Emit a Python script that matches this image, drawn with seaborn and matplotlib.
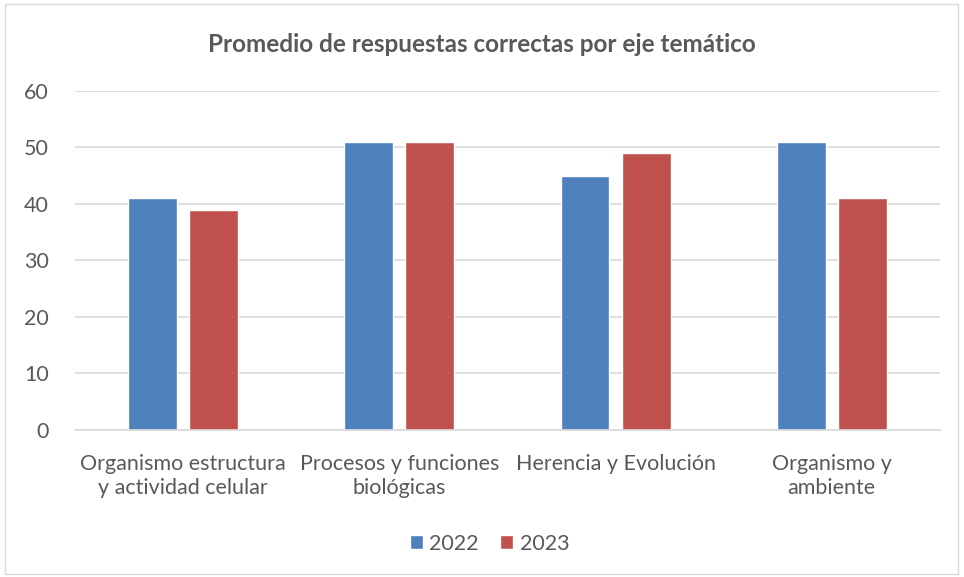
import pandas as pd
import matplotlib.pyplot as plt
import seaborn as sns
from matplotlib.patches import Rectangle

# Chart values
categorias = ['Organismo estructura\ny actividad celular',
              'Procesos y funciones\nbiológicas',
              'Herencia y Evolución',
              'Organismo y\nambiente']
valores_2022 = [41, 51, 45, 51]
valores_2023 = [39, 51, 49, 41]
anios = ['2022', '2023']
colores = ['#4F81BD', '#C0504D']

data = pd.DataFrame({
    'Eje': categorias * 2,
    'Valor': valores_2022 + valores_2023,
    'Año': [anios[0]] * 4 + [anios[1]] * 4,
})

sns.set_theme(style='white')
plt.rcParams['font.family'] = ['Lato', 'DejaVu Sans']

fig = plt.figure(figsize=(9.64, 5.77), dpi=100)
ax = fig.add_axes([0.0778, 0.2548, 0.8972, 0.5875])

sns.barplot(data=data, x='Eje', y='Valor', hue='Año', palette=colores,
            width=0.565, gap=0.2, ax=ax, saturation=1, legend=True)

ax.set_ylim(0, 60)
ax.set_yticks(range(0, 61, 10))
ax.set_xlim(-0.5, 3.5)
ax.grid(axis='y', color='#d9d9d9', linewidth=1.2)
ax.set_axisbelow(True)
for s in ['left', 'right', 'top']:
    ax.spines[s].set_visible(False)
ax.spines['bottom'].set_color('#d9d9d9')
ax.spines['bottom'].set_linewidth(1.2)
ax.tick_params(axis='both', length=0, labelsize=15.5, colors='#595959')
ax.tick_params(axis='x', pad=17)
ax.tick_params(axis='y', pad=19)
for lbl in ax.get_xticklabels():
    lbl.set_linespacing(1.3)
ax.set_xlabel('')
ax.set_ylabel('')

fig.text(0.5, 0.923, 'Promedio de respuestas correctas por eje temático',
         ha='center', va='center', fontsize=17.5, fontweight='bold', color='#595959')

leg = ax.legend(loc='center', bbox_to_anchor=(0.508, 0.058), bbox_transform=fig.transFigure,
                ncol=2, frameon=False, fontsize=15.5, handlelength=0.6, handleheight=0.6,
                handletextpad=0.3, columnspacing=1.0)
for t in leg.get_texts():
    t.set_color('#595959')

fig.patches.append(Rectangle((0.005, 0.006), 0.989, 0.987, transform=fig.transFigure,
                             fill=False, edgecolor='#d9d9d9', linewidth=1))

plt.savefig('out.png', dpi=100)
